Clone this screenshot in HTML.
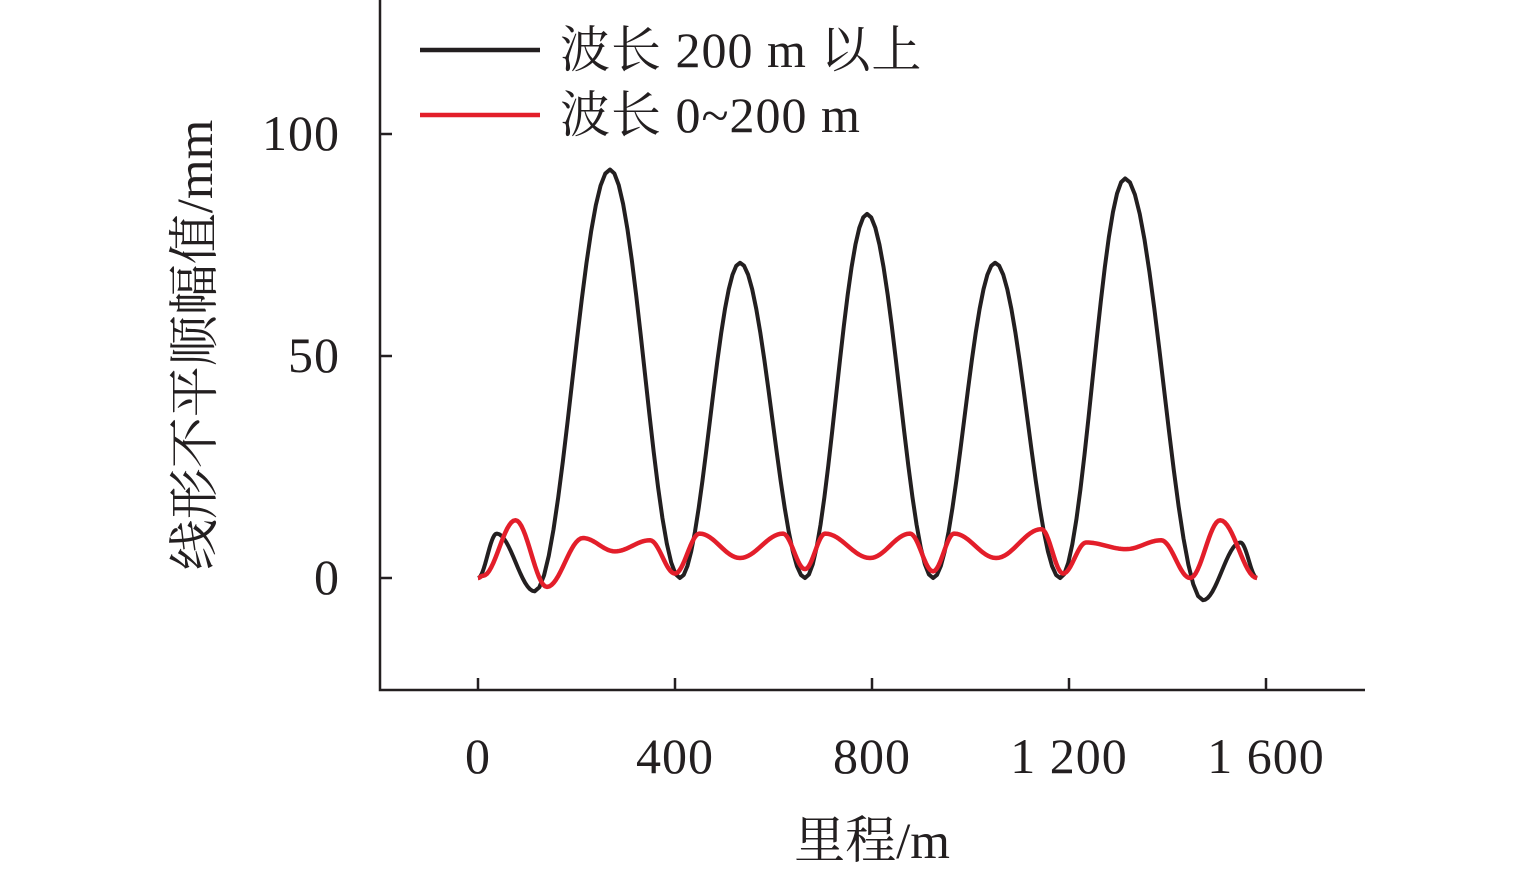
<!DOCTYPE html>
<html><head><meta charset="utf-8"><style>
body{margin:0;background:#fff}
svg text{font-family:"Liberation Serif","Noto Serif CJK SC",serif;fill:#231f20}
</style></head><body>
<svg width="1535" height="875" viewBox="0 0 1535 875">
<g id="axes"></g>
<g id="plot"></g>
<g>
<line x1="420" y1="50" x2="540" y2="50" stroke="#231f20" stroke-width="4.5"/>
<text x="560" y="67" font-size="50" letter-spacing="1">波长 200 m 以上</text>
<line x1="420" y1="115" x2="540" y2="115" stroke="#e31e2a" stroke-width="4.5"/>
<text x="560" y="132" font-size="50" letter-spacing="1">波长 0~200 m</text>
</g>
<text x="872" y="858" font-size="51" text-anchor="middle">里程/m</text>
<text transform="translate(212,345) rotate(-90)" font-size="51" text-anchor="middle">线形不平顺幅值/mm</text>
</svg>
<script>
const xTicks=[0,400,800,1200,1600];
const xTickLabels=["0","400","800","1 200","1 600"];
const yTicks=[0,50,100];
const yTickLabels=["0","50","100"];
const longWaveM=[0,38,115,268,410,532,664,790,924,1050,1182,1314,1472,1548,1582];
const longWaveV=[0,10,-3,92,0,71,0,82,0,71,0,90,-5,8,0];
const shortWaveM=[0,10,76,140,213,278,349,400,450,532,619,664,705,796,877,924,967,1052,1144,1188,1235,1316,1387,1446,1507,1582];
const shortWaveV=[0,0.5,13,-2,9,6,8.5,1,10,4.5,10,2,10,4.5,10,1.5,10,4.5,11,1,8,6.5,8.5,0,13,0];
const NS="http://www.w3.org/2000/svg";
const sx=m=>478+m*(1266-478)/1600;
const sy=v=>578-v*(578-134)/100;
function mk(tag,attrs,parent){const e=document.createElementNS(NS,tag);for(const k in attrs)e.setAttribute(k,attrs[k]);parent.appendChild(e);return e;}
const axes=document.getElementById('axes'),plot=document.getElementById('plot');
let a=mk('path',{d:'M380,0 V690 H1365',fill:'none',stroke:'#231f20','stroke-width':2.5},axes);


xTicks.forEach((t,i)=>{
 let l=mk('line',{x1:sx(t),x2:sx(t),y1:678,y2:690,stroke:'#231f20','stroke-width':2.5},axes);
 
 
 let tx=mk('text',{x:sx(t),y:773,'font-size':50,'text-anchor':'middle','letter-spacing':1},axes);tx.textContent=xTickLabels[i];
 
 
});
yTicks.forEach((t,i)=>{
 let l=mk('line',{x1:380,x2:392,y1:sy(t),y2:sy(t),stroke:'#231f20','stroke-width':2.5},axes);
 
 
 let tx=mk('text',{x:340,y:sy(t)+16,'font-size':50,'text-anchor':'end','letter-spacing':1},axes);tx.textContent=yTickLabels[i];
 
 
});
function pathFor(M,V){
 let d='M'+sx(M[0])+','+sy(V[0]);
 for(let i=0;i<M.length-1;i++){
  for(let k=1;k<=16;k++){const t=k/16,w=(1-Math.cos(Math.PI*t))/2;
   d+=' L'+sx(M[i]+(M[i+1]-M[i])*t).toFixed(2)+','+sy(V[i]+(V[i+1]-V[i])*w).toFixed(2);}
 }
 return d;
}
let p1=mk('path',{d:pathFor(longWaveM,longWaveV),fill:'none',stroke:'#231f20','stroke-width':4,'stroke-linejoin':'round'},plot);


let p2=mk('path',{d:pathFor(shortWaveM,shortWaveV),fill:'none',stroke:'#e31e2a','stroke-width':4.5,'stroke-linejoin':'round'},plot);


</script>
</body></html>
